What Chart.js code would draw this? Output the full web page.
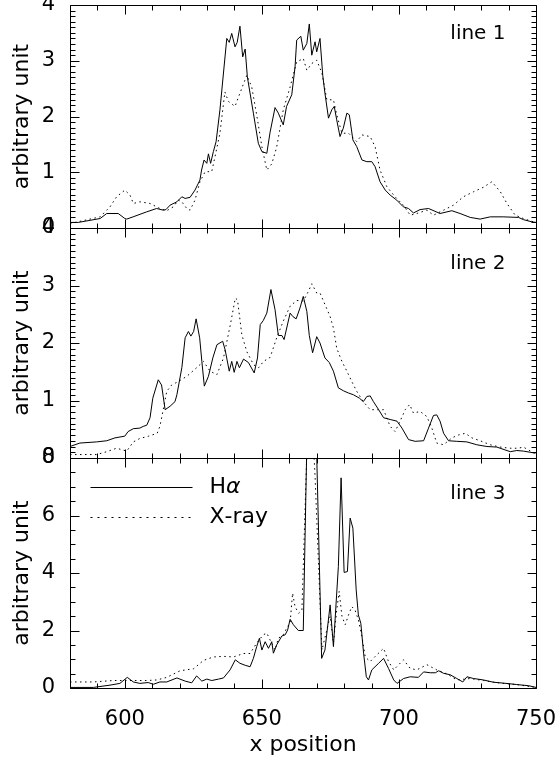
<!DOCTYPE html>
<html>
<head>
<meta charset="utf-8">
<title>line profiles</title>
<script src="https://cdn.jsdelivr.net/npm/chart.js@4.4.0/dist/chart.umd.min.js"></script>
<style>
  html, body { margin: 0; padding: 0; background: #fff; }
  canvas { display: block; }
</style>
</head>
<body>
<canvas id="grafico" width="558" height="761"></canvas>
<script>
// Perfiles: [x position, arbitrary unit]
const haLine1 = [[580,0.1],[583,0.1],[591,0.17],[593.4,0.26],[597.6,0.26],[600,0.17],[600.7,0.16],[603,0.2],[608,0.29],[611.6,0.35],[614,0.32],[615,0.33],[616.5,0.41],[619,0.47],[620.8,0.56],[622,0.53],[623.8,0.55],[625.6,0.68],[627.4,0.86],[628,1.04],[628.9,1.22],[629.9,1.16],[630.5,1.33],[631.3,1.16],[632.3,1.37],[633.3,1.55],[634.7,2.12],[637.2,3.40],[638.1,3.33],[639,3.49],[640.2,3.25],[641,3.33],[642,3.62],[643,3.07],[643.9,3.21],[644.7,2.71],[646.9,2.06],[648.7,1.52],[650,1.37],[651.8,1.34],[653,1.72],[654.8,2.16],[656,2.06],[657.8,1.85],[659,2.18],[660.9,2.39],[662.1,2.89],[662.7,3.37],[664.2,3.44],[665.1,3.19],[666.4,3.31],[667.3,3.66],[668.2,3.10],[669.4,3.34],[670,3.16],[671.2,3.40],[672.2,2.74],[673,2.42],[674.3,1.97],[675.5,2.12],[676.4,2.18],[677.3,1.94],[678.5,1.64],[679.7,1.79],[681,2.06],[681.9,2.03],[683.2,1.58],[684.6,1.46],[686.5,1.22],[688.3,1.19],[690.1,1.19],[691.3,1.10],[693.1,0.83],[695,0.68],[696.8,0.59],[699.2,0.50],[701.6,0.38],[703.5,0.35],[705.3,0.27],[707.7,0.33],[710.8,0.35],[715,0.26],[719.3,0.31],[722.3,0.26],[726,0.19],[729.6,0.16],[733.3,0.20],[738,0.20],[743.6,0.19],[745.4,0.15],[748.5,0.11],[750,0.1]];
const xrLine1 = [[580,0.08],[591,0.2],[594.6,0.38],[597,0.56],[600,0.68],[601.9,0.59],[603.1,0.44],[605.5,0.47],[609.2,0.44],[612.8,0.35],[615.3,0.31],[617.7,0.38],[619.5,0.50],[620.8,0.47],[622.6,0.35],[623.8,0.32],[625.6,0.50],[627.4,0.83],[629.3,1.01],[631.7,1.01],[632.9,1.28],[634.7,1.70],[636.5,2.44],[637.8,2.27],[640.2,2.18],[642,2.42],[644.5,2.74],[646.3,2.53],[648.1,2.03],[650,1.46],[651.8,1.04],[653.6,1.15],[655.4,1.45],[657.8,2.12],[660.3,2.53],[662.7,2.98],[665.1,3.04],[666.4,2.83],[668.2,2.95],[670,3.01],[671.9,2.78],[673.7,2.30],[676.1,2.30],[677.3,2.03],[679.2,1.70],[681.6,1.70],[684.6,1.55],[686.5,1.67],[689.5,1.64],[691.3,1.46],[693.1,1.04],[695.6,0.74],[698.6,0.56],[701.6,0.41],[704.1,0.23],[706.5,0.26],[710.2,0.32],[712.6,0.23],[716.3,0.32],[719.9,0.41],[723.5,0.56],[727.2,0.65],[730.8,0.73],[733.9,0.83],[737,0.65],[739.4,0.44],[742.4,0.23],[745.4,0.17],[749.1,0.11],[750,0.1]];
const haLine2 = [[580,0.20],[583.6,0.26],[589.7,0.28],[593.4,0.30],[596.4,0.35],[600,0.38],[601.2,0.46],[603.1,0.51],[605.5,0.52],[606.7,0.55],[608,0.57],[609.2,0.70],[610.2,1.04],[612.2,1.36],[613.4,1.27],[614.7,0.84],[616.5,0.90],[618.3,0.98],[619,1.10],[620.8,1.57],[622,2.09],[623.2,2.20],[624.1,2.12],[625.1,2.20],[626,2.42],[627.3,2.09],[628.1,1.68],[629,1.25],[630.5,1.42],[632.1,1.74],[633.6,1.97],[635.7,2.03],[636.6,1.88],[638.1,1.51],[639,1.68],[639.9,1.49],[640.9,1.68],[641.8,1.57],[643.3,1.72],[645.1,1.66],[647.2,1.48],[648.4,1.74],[649.4,2.32],[650.5,2.39],[651.8,2.52],[653.3,2.93],[654.8,2.58],[656,2.13],[657.3,2.13],[658.1,2.06],[660.3,2.52],[661.3,2.46],[662.5,2.42],[663.9,2.61],[665.1,2.81],[666.4,2.55],[667.3,2.13],[668.5,1.83],[670,2.11],[671.2,2.00],[673,1.74],[674.6,1.66],[676.1,1.51],[677.9,1.22],[679.7,1.17],[681.6,1.13],[683.4,1.10],[685.6,1.04],[687,0.98],[688.3,1.07],[689.5,1.08],[690.7,0.98],[692.6,0.84],[694.4,0.70],[696.8,0.67],[699.3,0.64],[701.1,0.52],[703.5,0.32],[705.9,0.29],[709,0.30],[710.8,0.52],[712.6,0.74],[713.8,0.75],[715,0.64],[716.3,0.43],[718.1,0.30],[721.1,0.29],[724.8,0.28],[728.4,0.23],[732.1,0.20],[735.7,0.19],[740.6,0.11],[743,0.13],[745.4,0.12],[749.1,0.09],[750,0.09]];
const xrLine2 = [[580,0.06],[589.7,0.06],[593.4,0.11],[597,0.17],[600.7,0.12],[603.1,0.28],[605.5,0.34],[608.7,0.38],[611.8,0.43],[612.8,0.55],[614,0.84],[615.3,1.16],[617.1,1.27],[619.5,1.33],[622.6,1.42],[626.2,1.57],[628.7,1.68],[631.1,1.51],[633.6,1.45],[636,1.74],[638.5,2.32],[640.3,2.78],[641.1,2.75],[642.7,2.14],[644.5,1.85],[647,1.62],[648.8,1.57],[650.6,1.68],[653,1.75],[655.4,2.09],[657.8,2.38],[660.3,2.64],[662.7,2.74],[665.1,2.73],[667,2.90],[668.2,3.03],[670,2.87],[671.2,2.87],[673,2.67],[674.9,2.46],[676.1,2.26],[677.3,1.91],[679.2,1.68],[681,1.51],[682.8,1.33],[684.6,1.16],[687,0.98],[689.5,0.84],[691.9,0.84],[694.4,0.84],[696.8,0.55],[698.6,0.46],[700.4,0.64],[702.3,0.84],[703.9,0.93],[705.3,0.78],[707.7,0.81],[710.2,0.72],[712,0.52],[713.8,0.26],[716.3,0.23],[719.3,0.35],[721.7,0.40],[724.2,0.43],[726.6,0.35],[729.6,0.30],[733.3,0.23],[736.9,0.19],[740.6,0.17],[743.6,0.17],[745.4,0.19],[749.1,0.09],[750,0.08]];
const haLine3 = [[580,0.02],[588.5,0.02],[594.6,0.1],[598.2,0.16],[600.9,0.37],[603.1,0.21],[605.5,0.16],[608.5,0.19],[610.4,0.13],[612.8,0.21],[615.3,0.21],[619,0.35],[622,0.24],[624.4,0.18],[626.2,0.42],[628.1,0.24],[629.9,0.31],[631.7,0.26],[634.2,0.31],[636,0.35],[638.4,0.63],[640.3,0.98],[642,0.86],[643.9,0.79],[645.7,0.74],[646.9,1.03],[648.1,1.44],[649.1,1.73],[650,1.32],[651.2,1.61],[652.4,1.38],[653.6,1.61],[654.2,1.21],[655.4,1.50],[657.3,1.81],[658.5,1.85],[659.4,2.02],[660.3,2.39],[661.5,2.20],[663.3,2.00],[665.1,2.00],[667.5,14],[668.5,14],[671.8,1.03],[673,1.32],[674.9,2.89],[676.1,1.44],[677.9,4.23],[678.9,7.31],[680,4.02],[681.2,4.05],[682.2,5.91],[683.2,5.56],[684.4,3.41],[685.2,2.54],[686.1,2.25],[687.1,1.21],[688.1,0.39],[688.9,0.28],[690.1,0.63],[692.6,0.86],[694.4,1.03],[696.2,0.68],[698.1,0.28],[699.3,0.16],[701.7,0.33],[704.1,0.39],[707.1,0.37],[709,0.56],[711.4,0.53],[713.3,0.53],[714.5,0.60],[716.3,0.51],[718.7,0.46],[721.1,0.33],[723.3,0.21],[724.8,0.39],[727.2,0.33],[730.8,0.28],[734.5,0.20],[738.1,0.17],[743,0.12],[747.3,0.08],[750,0.02]];
const xrLine3 = [[580,0.21],[588.5,0.21],[595.8,0.26],[603.1,0.26],[608,0.26],[611.7,0.28],[615.3,0.37],[620.2,0.60],[625.1,0.67],[628.7,0.96],[632.3,1.08],[636,1.10],[639.7,1.08],[643.3,1.2],[645.7,1.2],[648.1,1.56],[650.5,1.85],[651.8,1.91],[653,1.67],[654.8,1.32],[656,1.73],[657.8,1.85],[659.1,2.09],[660.3,2.27],[661.2,3.30],[662.1,2.83],[663.4,2.6],[664.6,2.71],[667,10],[668,10],[669.4,7.36],[671.9,1.32],[673.7,2.02],[674.9,2.5],[676.1,1.56],[677.3,2.71],[678.2,3.36],[679.2,2.5],[680.4,2.2],[681.6,2.54],[682.8,2.83],[684,2.71],[685.2,2.37],[686.5,1.79],[687.7,1.08],[689.5,0.92],[691.9,1.15],[694.4,1.38],[696.2,0.92],[698.1,0.63],[699.9,0.81],[701.7,0.98],[704.1,0.68],[706.5,0.63],[710.2,0.81],[713.8,0.63],[717.5,0.49],[721.1,0.28],[726,0.33],[730.8,0.26],[737,0.17],[743,0.12],[749.1,0.03],[750,0.02]];

// Ejes y etiquetas
const xRange = [580, 750];
const xTicks = [600, 650, 700, 750];
const xMinorStep = 10;
const panelAxes = ["y1", "y2", "y3"];
const panelNames = ["line 1", "line 2", "line 3"];
const panelRanges = [[0, 4], [0, 4], [0, 8]];
const panelTicks = [[0, 1, 2, 3, 4], [0, 1, 2, 3, 4], [0, 2, 4, 6, 8]];
const panelMinorSteps = [0.1, 0.1, 0.5];
const panelWeights = [223, 230, 230];
const seriesNames = ["H\u03b1", "X-ray"];

const FONT = "'DejaVu Sans ExtraLight', 'DejaVu Sans', 'Liberation Sans', sans-serif";
const dotted = [1.5, 3.5];

function toPoints(pairs) {
    return pairs.map(p => ({ x: p[0], y: p[1] }));
}

// Marco, marcas interiores, nombre del panel y leyenda
const marcoPlugin = {
    id: "marco",
    afterDraw(chart) {
        const ctx = chart.ctx;
        const xs = chart.scales.x;
        const L = Math.round(xs.left) + 0.5;
        const R = Math.round(xs.right) + 0.5;
        ctx.save();
        ctx.setLineDash([]);
        ctx.globalAlpha = 1;
        ctx.strokeStyle = "#000000";
        ctx.fillStyle = "#000000";
        ctx.lineWidth = 1;
        panelAxes.forEach((id, p) => {
            const ys = chart.scales[id];
            const T = Math.round(ys.top) + 0.5;
            const B = Math.round(ys.bottom) + 0.5;
            const lo = panelRanges[p][0], hi = panelRanges[p][1];

            ctx.beginPath();
            ctx.moveTo(L, T); ctx.lineTo(R, T); ctx.lineTo(R, B); ctx.lineTo(L, B); ctx.closePath();
            ctx.stroke();

            // marcas en y (izquierda y derecha)
            ctx.beginPath();
            const step = panelMinorSteps[p];
            const n = Math.round((hi - lo) / step);
            for (let i = 0; i <= n; i++) {
                const v = lo + i * step;
                const major = panelTicks[p].some(m => Math.abs(m - v) < 1e-6);
                const len = major ? 9 : 5;
                const py = Math.round(ys.getPixelForValue(v)) + 0.5;
                ctx.moveTo(L, py); ctx.lineTo(L + len, py);
                ctx.moveTo(R, py); ctx.lineTo(R - len, py);
            }
            // marcas en x (arriba y abajo de cada panel)
            for (let v = xRange[0]; v <= xRange[1]; v += xMinorStep) {
                const major = xTicks.includes(v);
                const len = major ? 9 : 5;
                const px = Math.round(xs.getPixelForValue(v)) + 0.5;
                ctx.moveTo(px, T); ctx.lineTo(px, T + len);
                ctx.moveTo(px, B); ctx.lineTo(px, B - len);
            }
            ctx.stroke();

            // nombre del panel, a distancia fija del borde inferior
            ctx.font = "20px " + FONT;
            ctx.textAlign = "right";
            ctx.textBaseline = "middle";
            ctx.fillText(panelNames[p], R - 31, B - 195);
        });

        // Leyenda dentro del tercer panel
        const y3 = chart.scales.y3;
        [4, 5].forEach((di, k) => {
            const ds = chart.data.datasets[di];
            const ly = Math.round(y3.bottom - 201 + k * 30) + 0.5;
            ctx.beginPath();
            ctx.setLineDash(ds.borderDash ? [2, 5] : []);
            ctx.moveTo(L + 20, ly);
            ctx.lineTo(L + 122, ly);
            ctx.stroke();
            ctx.setLineDash([]);
            ctx.textAlign = "left";
            ctx.textBaseline = "middle";
            let tx = L + 139;
            for (const ch of ds.label) {
                const greek = /[\u03b1-\u03c9]/.test(ch);
                ctx.font = (greek ? "italic " : "") + "22px " + FONT;
                ctx.fillText(ch, tx, ly);
                tx += ctx.measureText(ch).width;
            }
        });
        ctx.restore();
    }
};

function panelScale(p) {
    return {
        type: "linear",
        position: "left",
        stack: "paneles",
        stackWeight: panelWeights[p],
        weight: 3 - p,
        min: panelRanges[p][0],
        max: panelRanges[p][1],
        grid: { display: false },
        border: { display: false },
        ticks: {
            autoSkip: false,
            padding: 7,
            color: "#000",
            font: { family: FONT, size: 21 }
        },
        title: {
            display: true,
            text: "arbitrary unit",
            color: "#000",
            padding: { top: 9, bottom: 0 },
            font: { family: FONT, size: 22 }
        },
        afterBuildTicks: s => { s.ticks = panelTicks[p].map(v => ({ value: v })); },
        afterFit: s => { s.width = 70; s.paddingTop = 0; s.paddingBottom = 0; }
    };
}

const datasets = [];
[[haLine1, xrLine1], [haLine2, xrLine2], [haLine3, xrLine3]].forEach((pair, p) => {
    datasets.push({
        label: seriesNames[0], data: toPoints(pair[0]), yAxisID: panelAxes[p],
        borderColor: "#000", borderWidth: 1, pointRadius: 0, fill: false, tension: 0
    });
    datasets.push({
        label: seriesNames[1], data: toPoints(pair[1]), yAxisID: panelAxes[p],
        borderColor: "#000", borderWidth: 1, borderDash: dotted, pointRadius: 0, fill: false, tension: 0
    });
});

new Chart(document.getElementById("grafico"), {
    type: "line",
    data: { datasets },
    options: {
        responsive: false,
        animation: false,
        devicePixelRatio: 1,
        layout: { padding: { top: 5, right: 22, left: 0, bottom: 0 } },
        plugins: { legend: { display: false }, tooltip: { enabled: false } },
        scales: {
            x: {
                type: "linear",
                position: "bottom",
                min: xRange[0],
                max: xRange[1],
                grid: { display: false },
                border: { display: false },
                ticks: {
                    autoSkip: false,
                    maxRotation: 0,
                    padding: 11,
                    color: "#000",
                    font: { family: FONT, size: 21 }
                },
                title: {
                    display: true,
                    text: "x position",
                    color: "#000",
                    padding: { top: 0, bottom: 3 },
                    font: { family: FONT, size: 22 }
                },
                afterBuildTicks: s => { s.ticks = xTicks.map(v => ({ value: v })); },
                afterFit: s => { s.height = 73; s.paddingLeft = 0; s.paddingRight = 0; }
            },
            y1: panelScale(0),
            y2: panelScale(1),
            y3: panelScale(2)
        }
    },
    plugins: [marcoPlugin]
});
</script>
</body>
</html>
